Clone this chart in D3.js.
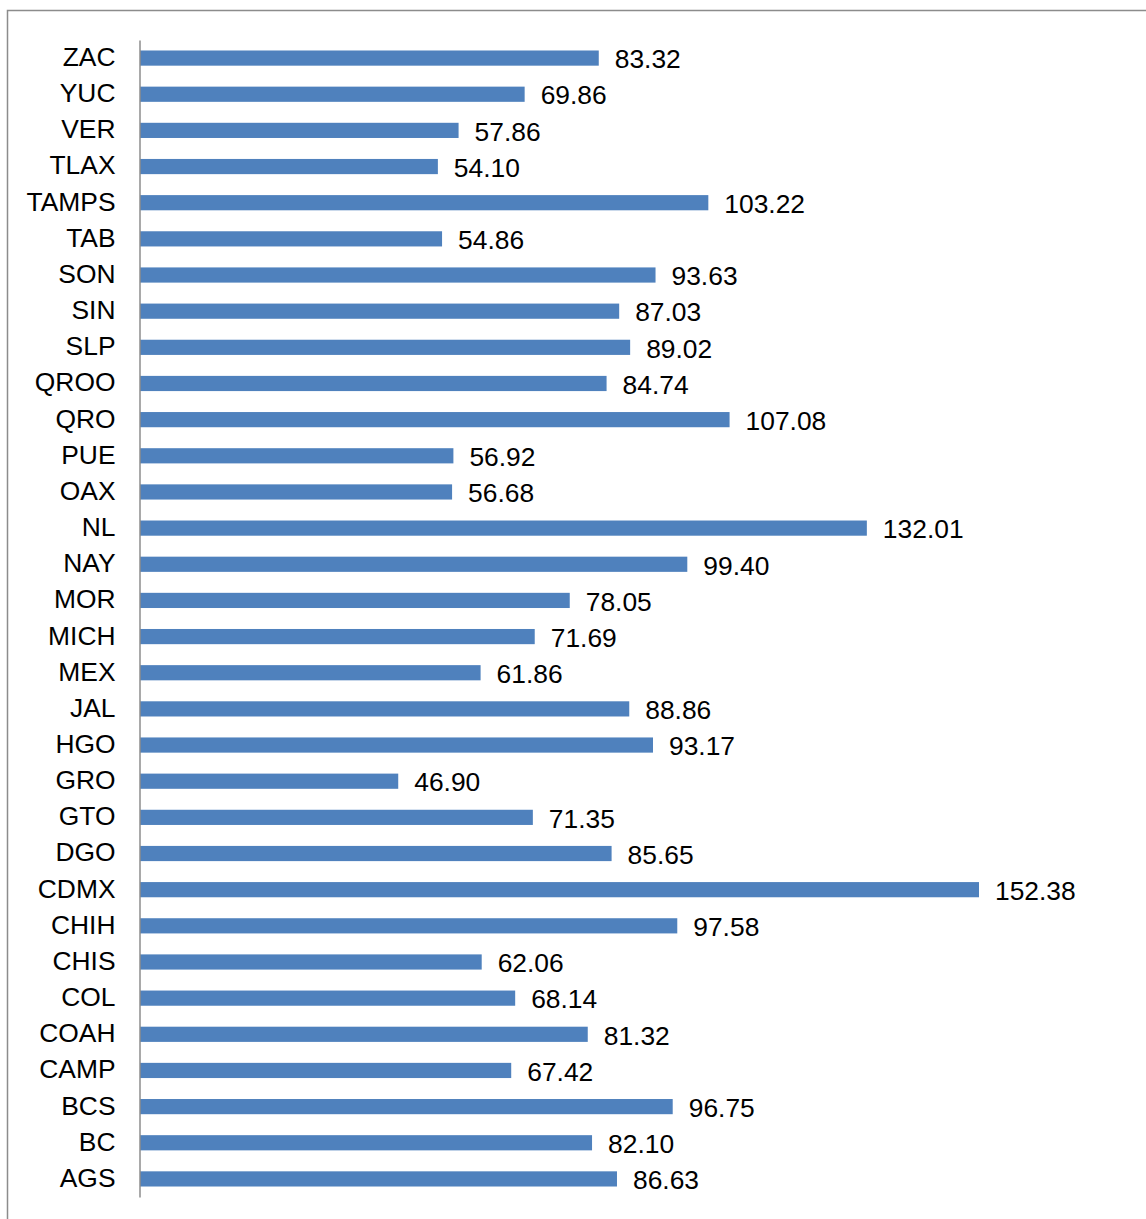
<!DOCTYPE html>
<html>
<head>
<meta charset="utf-8">
<script src="https://cdn.jsdelivr.net/npm/d3@7"></script>
<style>
  body { margin: 0; background: #fff; }
</style>
</head>
<body>
<svg id="chart"></svg>
<script>
// states, top to bottom as drawn
const states = ["ZAC","YUC","VER","TLAX","TAMPS","TAB","SON","SIN","SLP","QROO","QRO","PUE","OAX","NL","NAY","MOR","MICH","MEX","JAL","HGO","GRO","GTO","DGO","CDMX","CHIH","CHIS","COL","COAH","CAMP","BCS","BC","AGS"];
const values = [83.32,69.86,57.86,54.10,103.22,54.86,93.63,87.03,89.02,84.74,107.08,56.92,56.68,132.01,99.40,78.05,71.69,61.86,88.86,93.17,46.90,71.35,85.65,152.38,97.58,62.06,68.14,81.32,67.42,96.75,82.10,86.63];

const data = states.map((s, i) => ({name: s, value: values[i]}));

const width = 1146;
const height = 1219;
const svg = d3.select("#chart")
    .attr("width", width)
    .attr("height", height)
    .style("font-family", "'Liberation Sans', Arial, sans-serif");

// chart frame (runs off right and bottom edges like the source)
svg.append("rect")
    .attr("x", 7.5).attr("y", 10.5)
    .attr("width", width + 20).attr("height", height + 20)
    .attr("fill", "none")
    .attr("stroke", "#8c8c8c")
    .attr("stroke-width", 1.5);

const x = d3.scaleLinear().domain([0, 160]).range([140, 140 + 160 * 5.506]);
const y = d3.scaleBand().domain(states).range([40, 1197]).paddingInner(0.58).paddingOuter(0.29);

svg.append("g")
    .attr("fill", "#4f81bd")
  .selectAll("rect")
  .data(data)
  .join("rect")
    .attr("x", x(0))
    .attr("y", d => y(d.name))
    .attr("width", d => x(d.value) - x(0))
    .attr("height", y.bandwidth());

// value labels
svg.append("g")
    .attr("font-size", 26.4)
    .attr("fill", "#000")
  .selectAll("text")
  .data(data)
  .join("text")
    .attr("x", d => x(d.value) + 16)
    .attr("y", d => y(d.name) + y.bandwidth() / 2 + 1)
    .attr("dy", "0.35em")
    .text(d => d.value.toFixed(2));

// category axis
const yAxis = d3.axisLeft(y).tickSize(0).tickPadding(24);
const ga = svg.append("g")
    .attr("transform", `translate(${x(0) - 0.5},0)`)
    .call(yAxis);
ga.select(".domain").attr("stroke", "#8c8c8c").attr("stroke-width", 1.5);
ga.selectAll("text")
    .attr("font-size", 26.4)
    .attr("font-family", "'Liberation Sans', Arial, sans-serif")
    .attr("fill", "#000")
    .attr("dy", "0.3em");
</script>
</body>
</html>
